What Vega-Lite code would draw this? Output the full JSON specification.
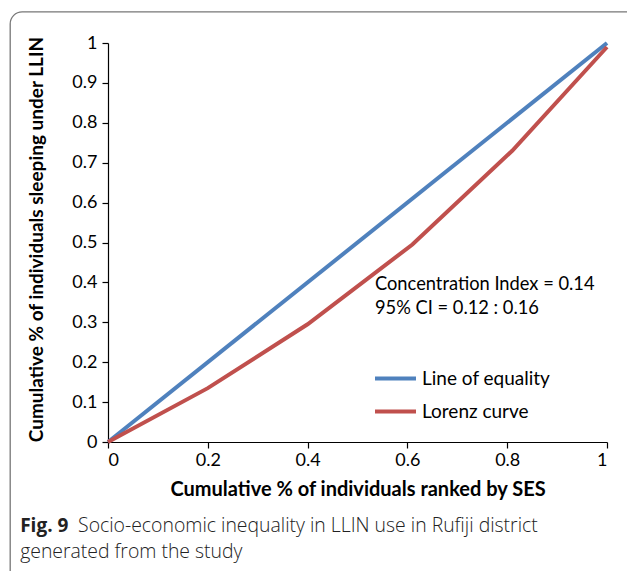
{
  "$schema": "https://vega.github.io/schema/vega-lite/v6.json",
  "width": 499,
  "height": 399,
  "autosize": {"type": "none"},
  "padding": {"left": 108, "top": 43, "right": 20, "bottom": 129},
  "background": "white",
  "config": {
    "view": {"stroke": null},
    "font": "Lato",
    "axis": {"domainColor": "#000", "tickColor": "#000", "labelColor": "#000", "titleColor": "#000", "grid": false, "labelFont": "Lato", "titleFont": "Lato", "labelFontSize": 18, "titleFontSize": 20, "titleFontWeight": "bold", "labelOverlap": false},
    "legend": {"labelFontSize": 19, "labelFont": "Lato", "labelColor": "#000"}
  },
  "datasets": {
    "curves": [
      {"x": 0, "y": 0, "series": "Line of equality"},
      {"x": 1, "y": 1, "series": "Line of equality"},
      {"x": 0, "y": 0, "series": "Lorenz curve"},
      {"x": 0.2, "y": 0.135, "series": "Lorenz curve"},
      {"x": 0.4, "y": 0.295, "series": "Lorenz curve"},
      {"x": 0.61, "y": 0.495, "series": "Lorenz curve"},
      {"x": 0.81, "y": 0.73, "series": "Lorenz curve"},
      {"x": 1, "y": 0.99, "series": "Lorenz curve"}
    ],
    "one": [{}]
  },
  "layer": [
    {
      "data": {"name": "curves"},
      "mark": {"type": "line", "strokeWidth": 4, "clip": false},
      "encoding": {
        "x": {"field": "x", "type": "quantitative", "scale": {"domain": [0, 1]},
          "axis": {"values": [0, 0.2, 0.4, 0.6, 0.8, 1], "format": "~g", "title": "Cumulative % of individuals ranked by SES", "tickSize": 6, "labelPadding": 3, "titlePadding": 10, "domainWidth": 1.2, "tickWidth": 1.2, "labelOverlap": false}},
        "y": {"field": "y", "type": "quantitative", "scale": {"domain": [0, 1]},
          "axis": {"values": [0, 0.1, 0.2, 0.3, 0.4, 0.5, 0.6, 0.7, 0.8, 0.9, 1], "tickCount": 11, "format": "~g", "title": "Cumulative % of individuals sleeping under LLIN", "titleFontSize": 19, "tickSize": 6, "labelPadding": 5, "titleX": -62, "titleY": 196, "domainWidth": 1.2, "tickWidth": 1.2, "labelOverlap": false}},
        "color": {"field": "series", "type": "nominal",
          "scale": {"domain": ["Line of equality", "Lorenz curve"], "range": ["#4F81BD", "#C0504D"]},
          "legend": {"title": null, "orient": "none", "legendX": 265, "legendY": 313, "symbolType": "stroke", "symbolStrokeWidth": 4, "symbolSize": 1681, "labelOffset": 4, "rowPadding": -8}},
        "detail": {"field": "series"}
      }
    },
    {
      "data": {"name": "one"},
      "mark": {"type": "rect", "fill": null, "stroke": "#777", "strokeWidth": 1.3, "cornerRadius": 12, "clip": false},
      "encoding": {
        "x": {"datum": -0.196, "type": "quantitative"},
        "x2": {"datum": 1.1},
        "y": {"datum": 1.078, "type": "quantitative"},
        "y2": {"datum": -0.36}
      }
    },
    {
      "data": {"name": "one"},
      "mark": {"type": "text", "align": "left", "baseline": "middle", "fontSize": 18.3, "font": "Lato", "color": "#000"},
      "encoding": {
        "x": {"datum": 0.535, "type": "quantitative"},
        "y": {"datum": 0.393, "type": "quantitative"},
        "text": {"value": "Concentration Index = 0.14"}
      }
    },
    {
      "data": {"name": "one"},
      "mark": {"type": "text", "align": "left", "baseline": "middle", "fontSize": 18.3, "font": "Lato", "color": "#000"},
      "encoding": {
        "x": {"datum": 0.535, "type": "quantitative"},
        "y": {"datum": 0.333, "type": "quantitative"},
        "text": {"value": "95% CI = 0.12 : 0.16"}
      }
    },
    {
      "data": {"name": "one"},
      "mark": {"type": "text", "align": "left", "baseline": "alphabetic", "fontSize": 19, "font": "Open Sans", "fontWeight": "bold", "color": "#222", "clip": false},
      "encoding": {
        "x": {"datum": -0.176, "type": "quantitative"},
        "y": {"datum": -0.226, "type": "quantitative"},
        "text": {"value": "Fig. 9"}
      }
    },
    {
      "data": {"name": "one"},
      "mark": {"type": "text", "align": "left", "baseline": "alphabetic", "fontSize": 19.4, "font": "Open Sans", "fontWeight": 300, "color": "#222", "clip": false},
      "encoding": {
        "x": {"datum": -0.06, "type": "quantitative"},
        "y": {"datum": -0.226, "type": "quantitative"},
        "text": {"value": "Socio-economic inequality in LLIN use in Rufiji district"}
      }
    },
    {
      "data": {"name": "one"},
      "mark": {"type": "text", "align": "left", "baseline": "alphabetic", "fontSize": 19.4, "font": "Open Sans", "fontWeight": 300, "color": "#222", "clip": false},
      "encoding": {
        "x": {"datum": -0.176, "type": "quantitative"},
        "y": {"datum": -0.29, "type": "quantitative"},
        "text": {"value": "generated from the study"}
      }
    }
  ]
}
